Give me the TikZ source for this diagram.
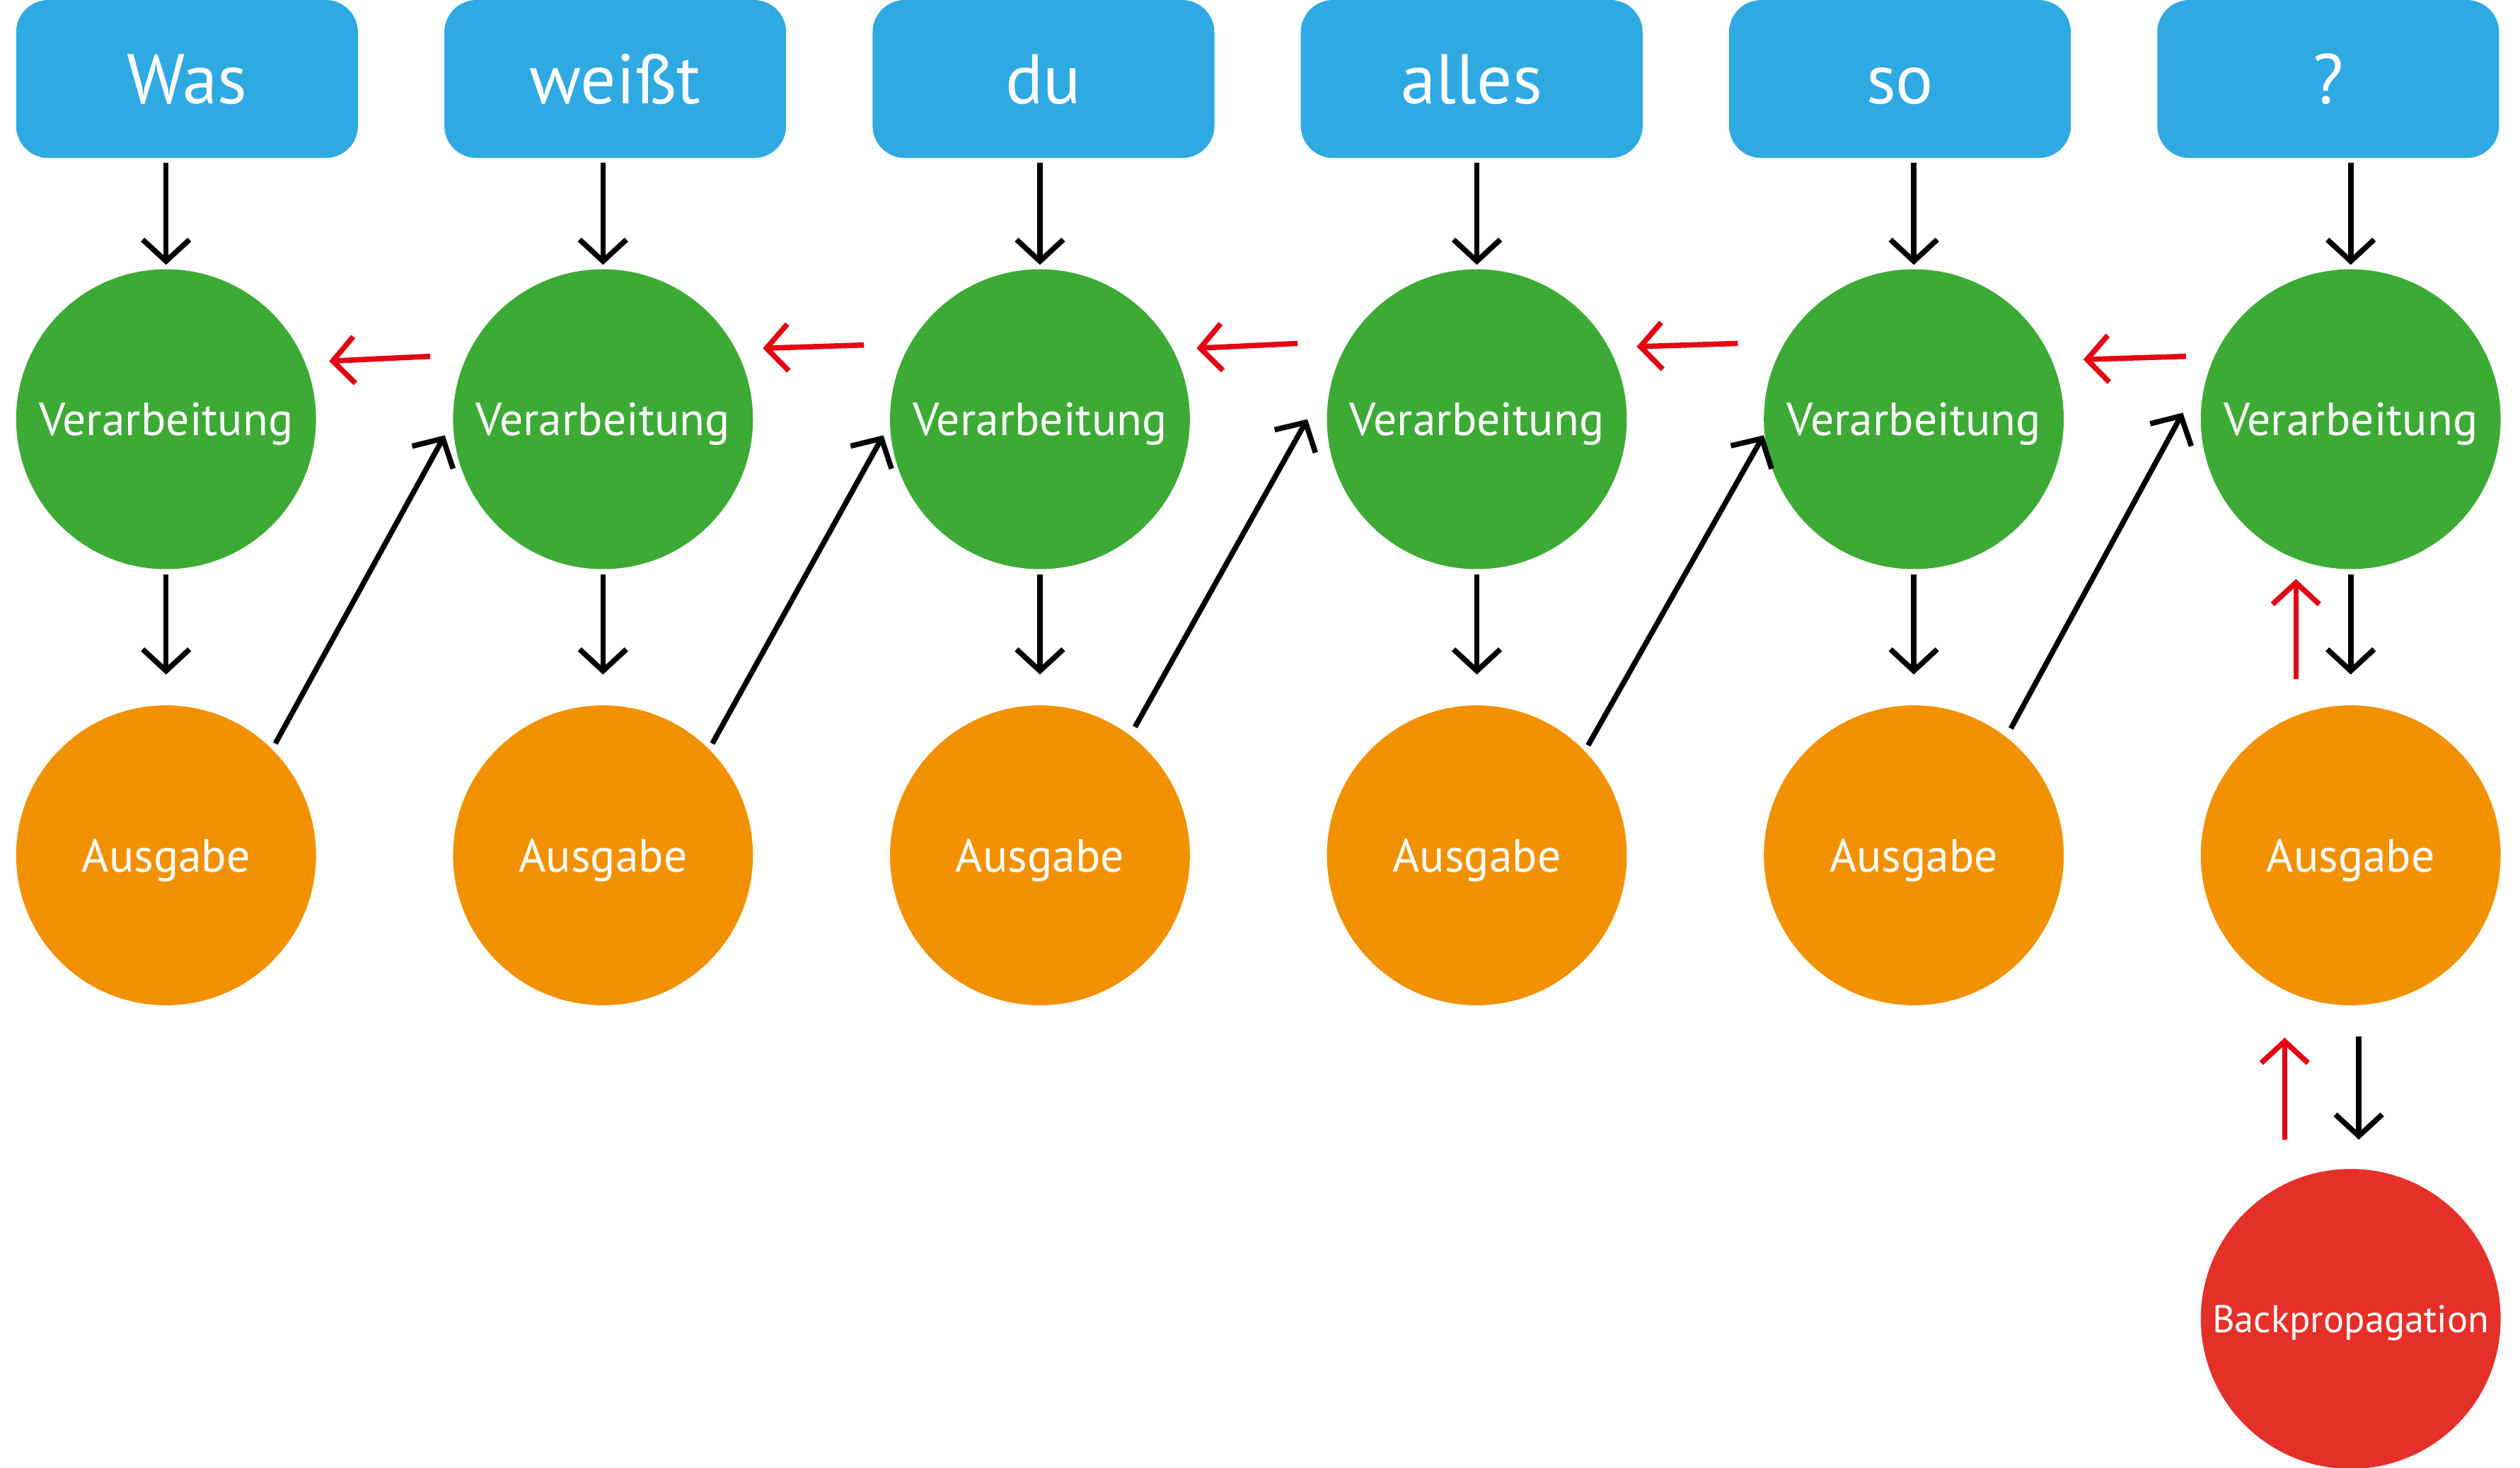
\documentclass[tikz,border=0pt]{standalone}
\usepackage{fontspec}
\setmainfont{PT Sans}
\usetikzlibrary{arrows.meta}
\definecolor{wortblau}{RGB}{47,169,225}
\definecolor{verarbgruen}{RGB}{61,170,53}
\definecolor{ausgorange}{RGB}{242,145,0}
\definecolor{backrot}{RGB}{229,48,41}
\definecolor{pfeilrot}{RGB}{227,6,19}
\begin{document}
\begin{tikzpicture}[x=0.5mm,y=-0.5mm,
    wort/.style={rectangle,rounded corners=10mm,fill=wortblau,text=white,
      minimum width=106mm,minimum height=49mm,text height=15.4mm,text depth=0pt,
      font=\fontsize{62}{62}\selectfont},
    kreis/.style={circle,inner sep=0pt,minimum size=93mm,text=white,text depth=0pt},
    verarb/.style={kreis,fill=verarbgruen,font=\fontsize{41}{41}\selectfont},
    ausg/.style={kreis,fill=ausgorange,font=\fontsize{41}{41}\selectfont},
    pfeil/.style={line width=4.7pt,-{Straight Barb[length=6.7mm,width=14.5mm]}},
    rueck/.style={pfeil,draw=pfeilrot}]
      \useasboundingbox (0,0) rectangle (1563,910.5);

      \node[wort] (was) at (116,49) {Was};
      \node[wort] (weisst) at (381.6,49) {weißt};
      \node[wort] (du) at (647.2,49) {du};
      \node[wort] (alles) at (912.8,49) {alles};
      \node[wort] (so) at (1178.4,49) {so};
      \node[wort] (frage) at (1444,49) {?};

      \node[verarb] (verarb1) at (103,260) {Verarbeitung};
      \node[verarb] (verarb2) at (374,260) {Verarbeitung};
      \node[verarb] (verarb3) at (645,260) {Verarbeitung};
      \node[verarb] (verarb4) at (916,260) {Verarbeitung};
      \node[verarb] (verarb5) at (1187,260) {Verarbeitung};
      \node[verarb] (verarb6) at (1458,260) {Verarbeitung};

      \node[ausg] (ausgabe1) at (103,530.5) {Ausgabe};
      \node[ausg] (ausgabe2) at (374,530.5) {Ausgabe};
      \node[ausg] (ausgabe3) at (645,530.5) {Ausgabe};
      \node[ausg] (ausgabe4) at (916,530.5) {Ausgabe};
      \node[ausg] (ausgabe5) at (1187,530.5) {Ausgabe};
      \node[ausg] (ausgabe6) at (1458,530.5) {Ausgabe};

      \node[kreis,fill=backrot,font=\fontsize{34}{34}\selectfont] (backprop)
           at (1458,818) {Backpropagation};

      % Eingabe -> Verarbeitung
      \draw[pfeil,shorten <=1.3mm,shorten >=1.3mm] (was.south -| verarb1) to (verarb1.north);
      \draw[pfeil,shorten <=1.3mm,shorten >=1.3mm] (weisst.south -| verarb2) to (verarb2.north);
      \draw[pfeil,shorten <=1.3mm,shorten >=1.3mm] (du.south -| verarb3) to (verarb3.north);
      \draw[pfeil,shorten <=1.3mm,shorten >=1.3mm] (alles.south -| verarb4) to (verarb4.north);
      \draw[pfeil,shorten <=1.3mm,shorten >=1.3mm] (so.south -| verarb5) to (verarb5.north);
      \draw[pfeil,shorten <=1.3mm,shorten >=1.3mm] (frage.south -| verarb6) to (verarb6.north);

      % Verarbeitung -> Ausgabe
      \draw[pfeil,shorten <=1.5mm,shorten >=9.5mm] (verarb1) to (ausgabe1);
      \draw[pfeil,shorten <=1.5mm,shorten >=9.5mm] (verarb2) to (ausgabe2);
      \draw[pfeil,shorten <=1.5mm,shorten >=9.5mm] (verarb3) to (ausgabe3);
      \draw[pfeil,shorten <=1.5mm,shorten >=9.5mm] (verarb4) to (ausgabe4);
      \draw[pfeil,shorten <=1.5mm,shorten >=9.5mm] (verarb5) to (ausgabe5);
      \draw[pfeil,shorten <=1.5mm,shorten >=9.5mm] (verarb6) to (ausgabe6);

      % Ausgabe -> naechste Verarbeitung
      \draw[pfeil,shorten <=2mm] (ausgabe1.45) to ([shift={(-5,10)}]verarb2.west);
      \draw[pfeil,shorten <=2mm] (ausgabe2.45) to ([shift={(-4,10)}]verarb3.west);
      \draw[pfeil,shorten <=3mm] (ausgabe3.53) to ([shift={(-12,0)}]verarb4.west);
      \draw[pfeil,shorten <=2mm] (ausgabe4.44) to ([shift={(0,10)}]verarb5.west);
      \draw[pfeil,shorten <=3mm] (ausgabe5.52) to ([shift={(-11,-4)}]verarb6.west);

      % Rueckwaerts
      \draw[rueck] ([shift={(-14,-39)}]verarb2.west) to ([shift={(8,-36)}]verarb1.east);
      \draw[rueck] ([shift={(-16,-46)}]verarb3.west) to ([shift={(6,-44)}]verarb2.east);
      \draw[rueck] ([shift={(-18,-47)}]verarb4.west) to ([shift={(4,-44)}]verarb3.east);
      \draw[rueck] ([shift={(-16,-47)}]verarb5.west) to ([shift={(6,-45)}]verarb4.east);
      \draw[rueck] ([shift={(-9,-39)}]verarb6.west) to ([shift={(12,-37)}]verarb5.east);

      \draw[rueck] ([shift={(-34,-16)}]ausgabe6.north) to ([shift={(-34,6)}]verarb6.south);
      \draw[rueck] ([shift={(-41,-18)}]backprop.north) to ([shift={(-41,20)}]ausgabe6.south);
      \draw[pfeil] ([shift={(5,19)}]ausgabe6.south) to ([shift={(5,-18)}]backprop.north);
    \end{tikzpicture}
\end{document}
